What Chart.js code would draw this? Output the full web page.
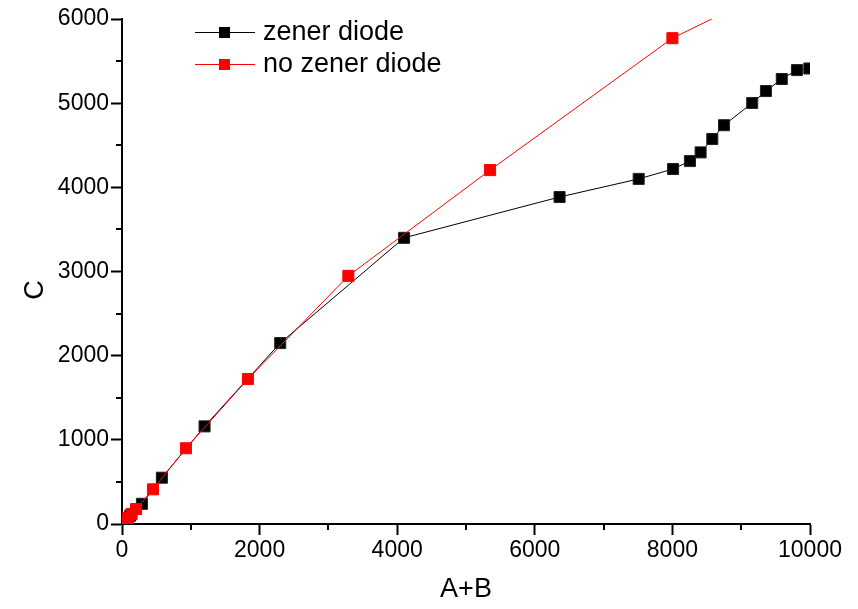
<!DOCTYPE html>
<html>
<head>
<meta charset="utf-8">
<script src="https://cdn.jsdelivr.net/npm/chart.js@4.4.1/dist/chart.umd.min.js"></script>
<style>
  html, body { margin: 0; padding: 0; background: #fff; }
  #wrap { width: 858px; height: 609px; }
</style>
</head>
<body>
<div id="wrap"><canvas id="c" width="858" height="609"></canvas></div>
<script>
// ---- data ----
const zenerLabel = 'zener diode';
const zenerX = [60, 120, 290, 580, 1200, 2300, 4100, 6360, 7510, 8010, 8255, 8410, 8580, 8750, 9160, 9360, 9590, 9810, 9990];
const zenerY = [50, 100, 240, 550, 1160, 2150, 3400, 3885, 4100, 4218, 4312, 4415, 4574, 4738, 5002, 5144, 5287, 5393, 5412];

const noZenerLabel = 'no zener diode';
const noZenerX = [40, 90, 140, 205, 450, 930, 1830, 3290, 5350, 8000, 10000];
const noZenerY = [30, 70, 120, 178, 412, 900, 1722, 2948, 4205, 5772, 6570];

const xTickValues = [0, 2000, 4000, 6000, 8000, 10000];
const yTickValues = [0, 1000, 2000, 3000, 4000, 5000, 6000];
const xTitle = 'A+B';
const yTitle = 'C';

const toPoints = (xs, ys) => xs.map((x, i) => ({ x: x, y: ys[i] }));

const FONT = "'Liberation Sans', Arial, sans-serif";

// minor ticks, y title + legend drawn with the chart's own scales
const extrasPlugin = {
  id: 'extras',
  afterDraw(chart) {
    const ctx = chart.ctx;
    const xs = chart.scales.x, ys = chart.scales.y;
    const area = chart.chartArea;
    ctx.save();
    ctx.strokeStyle = '#000';
    ctx.lineWidth = 2;
    // minor x ticks
    for (let v = 1000; v < 10000; v += 2000) {
      const px = Math.round(xs.getPixelForValue(v));
      ctx.beginPath();
      ctx.moveTo(px, area.bottom);
      ctx.lineTo(px, area.bottom + 6);
      ctx.stroke();
    }
    // minor y ticks
    for (let v = 500; v < 6000; v += 1000) {
      const py = Math.round(ys.getPixelForValue(v));
      ctx.beginPath();
      ctx.moveTo(area.left, py);
      ctx.lineTo(area.left - 6, py);
      ctx.stroke();
    }
    // y axis title
    ctx.save();
    ctx.translate(36, ys.getPixelForValue(2780));
    ctx.rotate(-Math.PI / 2);
    ctx.font = '27px ' + FONT;
    ctx.fillStyle = '#000';
    ctx.textAlign = 'center';
    ctx.textBaseline = 'middle';
    ctx.fillText(yTitle, 0, 0);
    ctx.restore();
    // legend
    const items = chart.data.datasets.map(ds => ({ text: ds.label, color: ds.borderColor }));
    const lx0 = 195, lx1 = 255, tx = 263;
    const rows = [32, 64];
    ctx.font = '27px ' + FONT;
    ctx.textBaseline = 'middle';
    ctx.textAlign = 'left';
    items.forEach((it, i) => {
      const y = rows[i];
      ctx.strokeStyle = it.color;
      ctx.lineWidth = 1;
      ctx.beginPath();
      ctx.moveTo(lx0, y + 0.5);
      ctx.lineTo(lx1, y + 0.5);
      ctx.stroke();
      ctx.fillStyle = it.color;
      ctx.fillRect(219, y - 5, 11, 11);
      ctx.fillStyle = '#000';
      ctx.fillText(it.text, tx, y + 1);
    });
    ctx.restore();
  }
};

new Chart(document.getElementById('c'), {
  type: 'scatter',
  data: {
    datasets: [
      {
        label: zenerLabel,
        data: toPoints(zenerX, zenerY),
        showLine: true,
        borderColor: '#000000',
        backgroundColor: '#000000',
        borderWidth: 1,
        pointStyle: 'rect',
        pointRadius: 7.8,
        pointHoverRadius: 7.8,
        pointBorderWidth: 1,
        pointBorderColor: '#222',
        clip: 0,
        order: 2
      },
      {
        label: noZenerLabel,
        data: toPoints(noZenerX, noZenerY),
        showLine: true,
        borderColor: '#ff0000',
        backgroundColor: '#ff0000',
        borderWidth: 1,
        pointStyle: 'rect',
        pointRadius: 7.8,
        pointHoverRadius: 7.8,
        pointBorderWidth: 1,
        pointBorderColor: '#ff0000',
        clip: 0,
        order: 1
      }
    ]
  },
  options: {
    responsive: false,
    animation: false,
    events: [],
    layout: { padding: { top: 19, right: 48, left: 0, bottom: 0 } },
    plugins: {
      legend: { display: false },
      tooltip: { enabled: false }
    },
    scales: {
      x: {
        type: 'linear',
        min: 0, max: 10000,
        afterBuildTicks(scale) { scale.ticks = xTickValues.map(v => ({ value: v })); },
        afterFit(scale) { scale.height = 85; },
        grid: { display: true, drawOnChartArea: false, drawTicks: true, tickLength: 11, tickWidth: 2, tickColor: '#000' },
        border: { display: true, color: '#000', width: 2 },
        ticks: { color: '#000', font: { family: FONT, size: 23 }, padding: 2, maxRotation: 0, autoSkip: false, callback: v => String(v) },
        title: { display: true, text: xTitle, color: '#000', font: { family: FONT, size: 27 }, padding: { top: 0, bottom: 3 } }
      },
      y: {
        type: 'linear',
        min: 0, max: 6000,
        afterBuildTicks(scale) { scale.ticks = yTickValues.map(v => ({ value: v })); },
        afterFit(scale) { scale.width = 122; },
        grid: { display: true, drawOnChartArea: false, drawTicks: true, tickLength: 11, tickWidth: 2, tickColor: '#000' },
        border: { display: true, color: '#000', width: 2 },
        ticks: { color: '#000', font: { family: FONT, size: 23 }, padding: 2, autoSkip: false, callback: v => String(v) },
        title: { display: false }
      }
    }
  },
  plugins: [extrasPlugin]
});
</script>
</body>
</html>
